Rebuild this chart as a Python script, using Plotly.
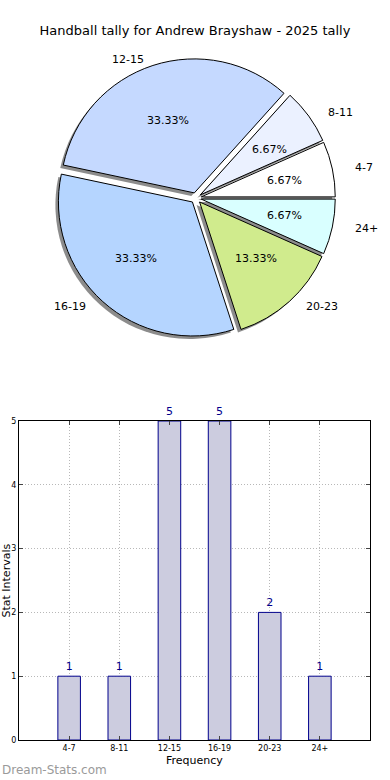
import math
import plotly.graph_objects as go

categories = ["4-7", "8-11", "12-15", "16-19", "20-23", "24+"]
counts = [1, 1, 5, 5, 2, 1]
slice_colors = ["#ffffff", "#ebf1ff", "#c5d9ff", "#b5d5ff", "#d0eb8d", "#d9ffff"]
y_ticks = [0, 1, 2, 3, 4, 5]

FONT = "DejaVu Sans"
W, H = 390, 780
cx, cy, R = 196, 198, 134
pull = 0.04
# reference pie is slightly elliptical; label placement radii (px)
RX, RY = 141, 128
total = sum(counts)
# plotly places the first slice's far edge at `rotation` when counterclockwise;
# shift so the first slice starts at 3 o'clock like the reference
rot = 90 - 360 * counts[0] / total

def pie_domain(radius, dx=0, dy=0):
    return dict(x=[(cx + dx - radius) / W, (cx + dx + radius) / W],
                y=[(H - (cy + dy) - radius) / H, (H - (cy + dy) + radius) / H])

common = dict(labels=categories, values=counts, sort=False,
              direction="counterclockwise", rotation=rot, showlegend=False,
              textinfo="none")

fig = go.Figure()

# shadow
fig.add_trace(go.Pie(
    **common, pull=pull, domain=pie_domain(R * (1 + pull), -3, 3),
    marker=dict(colors=["rgba(0,0,0,0.45)"] * len(counts), line=dict(width=0)),
    hoverinfo="skip"))

# main pie
fig.add_trace(go.Pie(
    **common, pull=pull, domain=pie_domain(R * (1 + pull)),
    marker=dict(colors=slice_colors, line=dict(color="black", width=1)),
    hovertemplate="%{label}: %{percent:.2%}<extra></extra>"))

# text labels for the pie (derived from slice angles, matplotlib-style placement)
annotations = []
start = 0.0
for cat, v in zip(categories, counts):
    span = 360.0 * v / total
    mid = math.radians(start + span / 2)
    start += span
    c, s = math.cos(mid), math.sin(mid)
    ex, ey = pull * RX * c, pull * RY * s
    # category label at 1.1 radius
    lx = cx + 1.1 * RX * c + ex
    ly = cy - 1.1 * RY * s - ey
    annotations.append(dict(text=cat, x=lx / W, y=1 - ly / H, xref="paper", yref="paper",
                            xanchor="left" if c > 0 else "right", yanchor="middle",
                            showarrow=False, font=dict(family=FONT, size=11, color="black")))
    # percentage at 0.6 radius
    px = cx + 0.6 * RX * c + ex
    py = cy - 0.6 * RY * s - ey
    annotations.append(dict(text=f"{100 * v / total:.2f}%", x=px / W, y=1 - py / H,
                            xref="paper", yref="paper", xanchor="center", yanchor="middle",
                            showarrow=False, font=dict(family=FONT, size=11, color="black")))

# bar chart
fig.add_trace(go.Bar(
    x=list(range(len(categories))), y=counts, width=0.45,
    marker=dict(color="#ccccdf", line=dict(color="#00008b", width=1)),
    text=[str(c) for c in counts], textposition="outside", cliponaxis=False,
    textfont=dict(family=FONT, size=11, color="#00008b"), showlegend=False,
    xaxis="x", yaxis="y"))

axis_common = dict(tickfont=dict(family=FONT, size=8), ticks="inside", ticklen=4,
                   showline=True, linecolor="black", linewidth=1, mirror="allticks",
                   showgrid=True, gridcolor="#b8b8b8", griddash="1px,2px", gridwidth=1,
                   zeroline=False, automargin=False)

x0, x1, y0, y1 = 19, 370, 421, 740

annotations += [
    dict(text="Frequency", x=(x0 + x1) / 2 / W, y=1 - 760 / H, xref="paper", yref="paper",
         xanchor="center", yanchor="middle", showarrow=False,
         font=dict(family=FONT, size=11, color="black")),
    dict(text="Stat Intervals", x=6 / W, y=1 - (y0 + y1) / 2 / H, xref="paper", yref="paper",
         xanchor="center", yanchor="middle", textangle=-90, showarrow=False,
         font=dict(family=FONT, size=11, color="black")),
    dict(text="Dream-Stats.com", x=0, y=1 - 770 / H, xref="paper", yref="paper",
         xanchor="left", yanchor="middle", showarrow=False,
         font=dict(family=FONT, size=12, color="#9a9a9a")),
]

fig.update_layout(
    width=W, height=H, autosize=False,
    margin=dict(l=0, r=0, t=0, b=0, autoexpand=False),
    paper_bgcolor="white", plot_bgcolor="white",
    font=dict(family=FONT, color="black"),
    title=dict(text="Handball tally for Andrew Brayshaw - 2025 tally",
               x=0.5, xanchor="center", xref="paper", y=1 - 30 / H, yanchor="middle", yref="container",
               automargin=False, font=dict(family=FONT, size=13, color="black")),
    xaxis=dict(domain=[x0 / W, x1 / W], range=[-1, 6],
               tickmode="array", tickvals=list(range(len(categories))), ticktext=categories,
               **axis_common),
    yaxis=dict(domain=[1 - y1 / H, 1 - y0 / H], range=[0, 5],
               tickmode="array", tickvals=y_ticks, **axis_common),
    annotations=annotations,
)

fig.write_html("out.html", config={"displayModeBar": False},
               post_script="document.body.style.margin='0';document.body.style.overflow='hidden';")
